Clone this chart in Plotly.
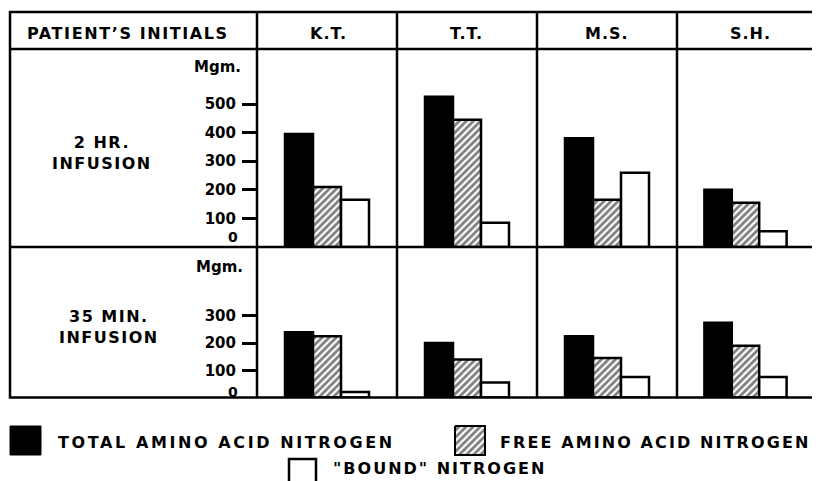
import plotly.graph_objects as go

# ---------------- data ----------------
patients = ["K.T.", "T.T.", "M.S.", "S.H."]
row_labels = ["2 HR.<br>INFUSION", "35 MIN.<br>INFUSION"]
series_names = ["TOTAL AMINO ACID NITROGEN", "FREE AMINO ACID NITROGEN", "\"BOUND\" NITROGEN"]

total_2hr = [395, 525, 380, 200]
free_2hr = [210, 445, 165, 155]
bound_2hr = [165, 85, 260, 55]

total_35min = [240, 200, 225, 275]
free_35min = [225, 140, 145, 190]
bound_35min = [20, 55, 75, 75]

ticks_2hr = [100, 200, 300, 400, 500]
ticks_35min = [100, 200, 300]
unit_label = "Mgm."
header_label = "PATIENT\u2019S INITIALS"

# ---------------- layout helpers ----------------
# the page body has an 8px margin, so the figure is placed at (8, 8)
OFF = 8
W, H = 820 - OFF, 481 - OFF
FONT = "DejaVu Sans"


def px(x):
    return (x - OFF) / W


def py(y):
    return 1 - (y - OFF) / H


def spaced(text, ls):
    return f'<span style="letter-spacing:{ls}px">{text}</span>'


col_edges = [257, 397, 537, 677, 814]
row_edges = [49, 247, 397.5]
scales = [0.286, 0.272]  # px per unit
rows_data = [
    (total_2hr, free_2hr, bound_2hr, ticks_2hr),
    (total_35min, free_35min, bound_35min, ticks_35min),
]

hatch = dict(shape="/", fgcolor="black", bgcolor="white", size=5, solidity=0.55)

fig = go.Figure()
layout = dict(
    width=W, height=H,
    margin=dict(l=0, r=0, t=0, b=0),
    paper_bgcolor="white", plot_bgcolor="rgba(0,0,0,0)",
    barmode="group", bargap=0.4, bargroupgap=0,
    showlegend=False,
    font=dict(family=FONT, color="black"),
)

tickfont = dict(family=FONT, size=15, color="black", weight="bold")

for r, (tot, fre, bnd, tks) in enumerate(rows_data):
    top_range = (row_edges[r + 1] - row_edges[r]) / scales[r]
    for c, p in enumerate(patients):
        k = r * 4 + c + 1
        xa = f"x{k}" if k > 1 else "x"
        ya = f"y{k}" if k > 1 else "y"
        xkey = f"xaxis{k}" if k > 1 else "xaxis"
        ykey = f"yaxis{k}" if k > 1 else "yaxis"
        layout[xkey] = dict(
            domain=[px(col_edges[c]), px(col_edges[c + 1])],
            anchor=ya, type="category", range=[-0.5, 0.5],
            visible=False,
        )
        yax = dict(
            domain=[py(row_edges[r + 1]), py(row_edges[r])],
            anchor=xa, range=[0, top_range],
            showgrid=False, zeroline=False, showline=False,
        )
        if c == 0:
            yax.update(
                tickmode="array", tickvals=tks, ticks="outside", ticklen=14,
                tickwidth=2.5, tickcolor="black", tickfont=tickfont,
                showticklabels=True, ticklabelstandoff=3,
            )
        else:
            yax.update(showticklabels=False, ticks="")
        layout[ykey] = yax

        fig.add_trace(go.Bar(
            x=[p], y=[tot[c]], name=series_names[0], xaxis=xa, yaxis=ya,
            marker=dict(color="black", line=dict(color="black", width=2.5)),
        ))
        fig.add_trace(go.Bar(
            x=[p], y=[fre[c]], name=series_names[1], xaxis=xa, yaxis=ya,
            marker=dict(color="white", line=dict(color="black", width=2.5),
                        pattern=hatch),
        ))
        fig.add_trace(go.Bar(
            x=[p], y=[bnd[c]], name=series_names[2], xaxis=xa, yaxis=ya,
            marker=dict(color="white", line=dict(color="black", width=2.5)),
        ))

# overlay axis (page-pixel coordinates) for the hand-built hatched legend swatch
layout["xaxis9"] = dict(domain=[0, 1], range=[OFF, OFF + W], visible=False, anchor="y9")
layout["yaxis9"] = dict(domain=[0, 1], range=[OFF + H, OFF], visible=False, anchor="x9")
fig.add_trace(go.Scatter(
    x=[455, 485, 485, 455, 455], y=[426, 426, 455, 455, 426],
    xaxis="x9", yaxis="y9", mode="lines", fill="toself",
    fillcolor="white", fillpattern=hatch,
    line=dict(color="black", width=2), hoverinfo="skip",
))

shapes = []
lw = 2.5
# outer border and grid lines
shapes.append(dict(type="rect", xref="paper", yref="paper",
                   x0=px(10), x1=px(814), y0=py(12), y1=py(397.5),
                   line=dict(color="black", width=lw), layer="above"))
for yy in [49, 247]:
    shapes.append(dict(type="line", xref="paper", yref="paper",
                       x0=px(10), x1=px(814), y0=py(yy), y1=py(yy),
                       line=dict(color="black", width=lw), layer="above"))
for xx in col_edges[:-1]:
    shapes.append(dict(type="line", xref="paper", yref="paper",
                       x0=px(xx), x1=px(xx), y0=py(12), y1=py(397.5),
                       line=dict(color="black", width=lw), layer="above"))
# legend swatches
shapes.append(dict(type="rect", xref="paper", yref="paper",
                   x0=px(10), x1=px(41), y0=py(426), y1=py(455),
                   fillcolor="black", line=dict(color="black", width=1)))
shapes.append(dict(type="rect", xref="paper", yref="paper",
                   x0=px(289), x1=px(316), y0=py(459), y1=py(490),
                   fillcolor="white", line=dict(color="black", width=2.5)))

annotations = []
bold = dict(family=FONT, color="black", weight="bold")


def ann(text, x, y, size, xanchor="center", yanchor="middle", **kw):
    annotations.append(dict(text=text, x=px(x), y=py(y), xref="paper", yref="paper",
                            xanchor=xanchor, yanchor=yanchor, showarrow=False,
                            font=dict(bold, size=size), **kw))


# header
ann(spaced(header_label, 1.6), 128, 33, 16)
header_x = [328, 467, 607, 750]
for p, hx in zip(patients, header_x):
    ann(spaced(p, 1), hx, 33, 16)

# row labels
ann(spaced(row_labels[0], 1.5), 102, 153, 16, align="center")
ann(spaced(row_labels[1], 1.5), 109, 327, 16, align="center")

# unit labels
ann(unit_label, 243, 67, 15, xanchor="right")
ann(unit_label, 245, 267, 15, xanchor="right")

# zero labels
annotations.append(dict(text="0", x=px(240), xref="paper", xanchor="right",
                        y=0, yref="y", yanchor="middle", yshift=10, showarrow=False,
                        font=dict(bold, size=14)))
annotations.append(dict(text="0", x=px(240), xref="paper", xanchor="right",
                        y=0, yref="y5", yanchor="middle", yshift=6, showarrow=False,
                        font=dict(bold, size=14)))

# legend text
ann(spaced(series_names[0], 2.6), 56, 442, 16, xanchor="left")
ann(spaced(series_names[1], 2.1), 498, 442, 16, xanchor="left")
ann(spaced(series_names[2], 2.0), 331, 468, 16, xanchor="left")

layout["shapes"] = shapes
layout["annotations"] = annotations
fig.update_layout(**layout)
fig.write_html("out.html")
